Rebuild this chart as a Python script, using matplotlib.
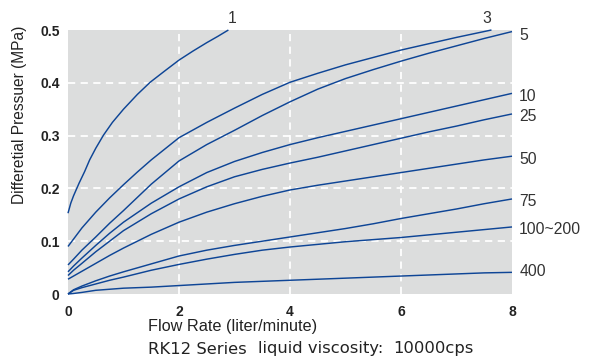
import matplotlib
matplotlib.use("Agg")
import matplotlib.pyplot as plt

plt.rcParams['font.family'] = ['Liberation Sans', 'DejaVu Sans']

# ---- data ----
labels = ["1", "3", "5", "10", "25", "50", "75", "100~200", "400"]

x_1 = [0, 0.05, 0.1, 0.2, 0.3, 0.39, 0.5, 0.64, 0.8, 1.0, 1.25, 1.48, 1.75, 2.0, 2.25, 2.5, 2.7, 2.89]
y_1 = [0.153, 0.172, 0.186, 0.21, 0.232, 0.254, 0.276, 0.301, 0.325, 0.35, 0.378, 0.401,
       0.423, 0.443, 0.46, 0.476, 0.488, 0.5]

x_3 = [0, 0.1, 0.25, 0.5, 0.75, 1, 1.25, 1.5, 2, 2.5, 3, 3.5, 4, 4.5, 5, 5.5, 6, 6.5, 7, 7.63]
y_3 = [0.09, 0.104, 0.125, 0.155, 0.182, 0.207, 0.231, 0.254, 0.296, 0.325, 0.352, 0.378,
       0.401, 0.418, 0.434, 0.448, 0.462, 0.474, 0.486, 0.5]

x_std = [0, 0.1, 0.25, 0.5, 0.75, 1, 1.5, 2, 2.5, 3, 3.5, 4, 4.5, 5, 5.5, 6, 6.5, 7, 7.5, 8]
y_5 = [0.055, 0.066, 0.083, 0.108, 0.134, 0.158, 0.208, 0.252, 0.283, 0.31, 0.338, 0.364,
       0.388, 0.408, 0.425, 0.441, 0.456, 0.47, 0.484, 0.497]
y_10 = [0.042, 0.053, 0.068, 0.092, 0.115, 0.136, 0.172, 0.203, 0.23, 0.251, 0.268, 0.283,
        0.296, 0.308, 0.32, 0.332, 0.344, 0.356, 0.368, 0.38]
y_25 = [0.035, 0.045, 0.058, 0.08, 0.1, 0.12, 0.152, 0.18, 0.203, 0.222, 0.236, 0.248,
        0.259, 0.271, 0.283, 0.295, 0.307, 0.318, 0.33, 0.341]
y_50 = [0.028, 0.034, 0.043, 0.058, 0.073, 0.087, 0.113, 0.136, 0.155, 0.171, 0.185, 0.197,
        0.206, 0.214, 0.222, 0.23, 0.238, 0.246, 0.254, 0.261]
y_75 = [0, 0.008, 0.015, 0.025, 0.034, 0.042, 0.057, 0.072, 0.083, 0.092, 0.1, 0.108,
        0.116, 0.124, 0.133, 0.143, 0.152, 0.161, 0.171, 0.18]
y_100 = [0, 0.007, 0.012, 0.019, 0.026, 0.032, 0.045, 0.056, 0.066, 0.075, 0.083, 0.089,
         0.094, 0.099, 0.103, 0.107, 0.112, 0.117, 0.122, 0.127]
y_400 = [0, 0.001, 0.003, 0.007, 0.009, 0.011, 0.013, 0.016, 0.019, 0.022, 0.024, 0.026,
         0.028, 0.03, 0.032, 0.034, 0.036, 0.038, 0.04, 0.041]

xticks = [0, 2, 4, 6, 8]
yticks = [0, 0.1, 0.2, 0.3, 0.4, 0.5]
ytick_labels = ["0", "0.1", "0.2", "0.3", "0.4", "0.5"]

series = [(x_1, y_1), (x_3, y_3), (x_std, y_5), (x_std, y_10), (x_std, y_25),
          (x_std, y_50), (x_std, y_75), (x_std, y_100), (x_std, y_400)]

# ---- figure ----
fig = plt.figure(figsize=(5.94, 3.61), dpi=100)
ax = fig.add_axes([68/594, 1-294/361, 444/594, 264/361])
ax.set_facecolor('#dcdddd')
for s in ax.spines.values():
    s.set_visible(False)

line_color = '#0e4596'
for xs, ys in series:
    ax.plot(xs, ys, color=line_color, lw=1.05, clip_on=False,
            solid_joinstyle='round', solid_capstyle='butt')

ax.set_xlim(0, 8)
ax.set_ylim(0, 0.5)
ax.set_xticks(xticks)
ax.set_xticklabels([str(v) for v in xticks])
ax.set_yticks(yticks)
ax.set_yticklabels(ytick_labels)
ax.tick_params(length=0, labelsize=10, colors='#222222')
ax.tick_params(axis='y', pad=6)
ax.tick_params(axis='x', pad=8)
for t in ax.get_xticklabels() + ax.get_yticklabels():
    t.set_fontweight('bold')

for v in [2, 4, 6]:
    ax.axvline(v, color='white', lw=1.3, ls=(0, (4, 3)), zorder=0.5)
for v in [0.1, 0.2, 0.3, 0.4]:
    ax.axhline(v, color='white', lw=1.3, ls=(0, (4, 3)), zorder=0.5)

# curve labels
lab_col = '#333333'
ax.text(2.95, 0.522, labels[0], ha='center', va='center', fontsize=11.3, color=lab_col)
ax.text(7.55, 0.522, labels[1], ha='center', va='center', fontsize=11.3, color=lab_col)
right_ys = [0.489, 0.374, 0.336, 0.255, 0.175, 0.122, 0.042]
for lab, yv in zip(labels[2:], right_ys):
    ax.text(8.13, yv, lab, ha='left', va='center', fontsize=11.3, color=lab_col)

txt_col = '#222222'
fig.text(148/594, 1-327/361, "Flow Rate (liter/minute)", ha='left', va='center',
         fontsize=11.7, color=txt_col)
yb = 1-349/361
fig.text(148/594, yb, "RK12 Series", ha='left', va='center', fontsize=11.8,
         color=txt_col, family='DejaVu Sans')
fig.text(258/594, yb, "liquid viscosity:", ha='left', va='center', fontsize=11.8,
         color=txt_col, family='DejaVu Sans')
fig.text(393/594, yb, "10000cps", ha='left', va='center', fontsize=11.8,
         color=txt_col, family='DejaVu Sans')
fig.text(20/594, 1-115/361, "Differetial Pressuer (MPa)", ha='center', va='center',
         rotation=90, fontsize=11.2, color=txt_col)

fig.savefig("out.png", dpi=100)
